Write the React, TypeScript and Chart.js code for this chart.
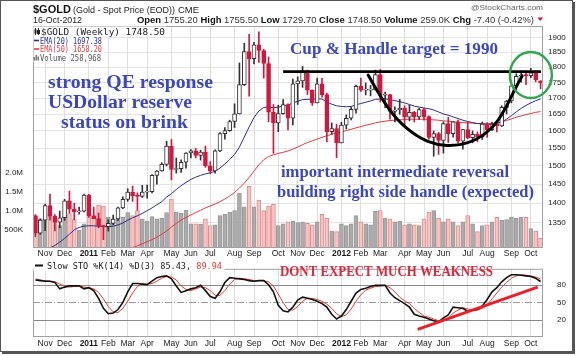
import React, { useEffect, useRef } from 'react';
import { Chart, registerables } from 'chart.js';

Chart.register(...registerables);

// ---------------- data (weekly, $GOLD) ----------------
const weeks = [
  '2010-10-22','2010-10-29','2010-11-05','2010-11-12','2010-11-19','2010-11-26','2010-12-03','2010-12-10','2010-12-17','2010-12-24','2010-12-31',
  '2011-01-07','2011-01-14','2011-01-21','2011-01-28','2011-02-04','2011-02-11','2011-02-18','2011-02-25','2011-03-04','2011-03-11','2011-03-18','2011-03-25','2011-04-01','2011-04-08','2011-04-15','2011-04-22','2011-04-29','2011-05-06','2011-05-13','2011-05-20','2011-05-27','2011-06-03','2011-06-10','2011-06-17','2011-06-24','2011-07-01','2011-07-08','2011-07-15','2011-07-22','2011-07-29','2011-08-05','2011-08-12','2011-08-19','2011-08-26','2011-09-02','2011-09-09','2011-09-16','2011-09-23','2011-09-30','2011-10-07','2011-10-14','2011-10-21','2011-10-28','2011-11-04','2011-11-11','2011-11-18','2011-11-25','2011-12-02','2011-12-09','2011-12-16','2011-12-23','2011-12-30',
  '2012-01-06','2012-01-13','2012-01-20','2012-01-27','2012-02-03','2012-02-10','2012-02-17','2012-02-24','2012-03-02','2012-03-09','2012-03-16','2012-03-23','2012-03-30','2012-04-06','2012-04-13','2012-04-20','2012-04-27','2012-05-04','2012-05-11','2012-05-18','2012-05-25','2012-06-01','2012-06-08','2012-06-15','2012-06-22','2012-06-29','2012-07-06','2012-07-13','2012-07-20','2012-07-27','2012-08-03','2012-08-10','2012-08-17','2012-08-24','2012-08-31','2012-09-07','2012-09-14','2012-09-21','2012-09-28','2012-10-05','2012-10-12','2012-10-16',
];

const opens = [
  1368,1325,1357,1394,1367,1352,1363,1406,1385,1378,1380,
  1421,1368,1361,1342,1341,1349,1360,1388,1410,1429,1420,1418,1429,1430,1474,1486,1504,1556,1490,1492,1510,1536,1542,1529,1539,1500,1486,1542,1592,1601,1628,1651,1743,1852,1828,1876,1856,1812,1656,1624,1652,1680,1638,1745,1755,1788,1725,1685,1745,1711,1598,1607,
  1565,1617,1638,1665,1737,1725,1725,1726,1775,1709,1711,1659,1663,1669,1641,1656,1642,1664,1643,1581,1592,1572,1622,1592,1627,1570,1604,1580,1590,1583,1620,1604,1620,1615,1671,1691,1739,1770,1773,1772,1781,1755.2,
];
const highs = [
  1371,1360,1398,1424,1371,1380,1410,1432,1400,1390,1424,
  1423,1390,1375,1344,1358,1370,1390,1417,1438,1445,1427,1447,1448,1476,1487,1509,1570,1575,1522,1517,1537,1546,1549,1544,1556,1512,1545,1595,1610,1632,1682,1814,1881,1912,1884,1921,1860,1834,1680,1678,1695,1682,1761,1768,1802,1790,1726,1764,1763,1716,1624,1620,
  1626,1648,1672,1741,1764,1748,1740,1790,1792,1719,1712,1673,1696,1676,1678,1659,1668,1670,1645,1600,1596,1627,1641,1628,1632,1605,1627,1600,1597,1627,1625,1626,1624,1676,1693,1741,1778,1788,1787,1796,1787,1755.5,
];
const lows = [
  1316,1322,1331,1357,1330,1338,1356,1375,1358,1372,1378,
  1364,1361,1338,1309,1330,1346,1356,1386,1405,1405,1382,1415,1413,1427,1450,1485,1500,1462,1480,1482,1494,1522,1522,1516,1496,1478,1480,1540,1576,1599,1610,1651,1740,1706,1811,1816,1764,1627,1535,1598,1650,1603,1618,1680,1734,1711,1677,1685,1703,1568,1590,1523,
  1565,1606,1633,1653,1721,1710,1707,1725,1688,1670,1635,1627,1650,1612,1630,1627,1634,1632,1576,1527,1532,1536,1566,1582,1564,1547,1577,1565,1568,1575,1581,1601,1597,1613,1651,1685,1725,1751,1743,1765,1752,1729.7,
];
const closes = [
  1325,1357,1394,1367,1352,1363,1406,1385,1378,1380,1421,
  1368,1361,1342,1341,1349,1360,1388,1410,1429,1420,1418,1429,1430,1474,1486,1504,1556,1490,1492,1510,1536,1542,1529,1539,1500,1486,1542,1592,1601,1628,1651,1743,1852,1828,1876,1856,1812,1656,1624,1652,1680,1638,1745,1755,1788,1725,1685,1745,1711,1598,1607,1565,
  1617,1638,1665,1737,1725,1725,1726,1775,1709,1711,1659,1663,1669,1641,1656,1642,1664,1643,1581,1592,1572,1622,1592,1627,1570,1604,1580,1590,1583,1620,1604,1620,1615,1671,1691,1739,1770,1773,1772,1781,1759,1748.5,
];
// volume in thousands
const volumeK = [
  870,780,950,900,820,600,850,920,760,480,650,
  900,870,1150,1120,820,780,800,830,950,870,1000,780,720,840,780,800,950,1310,960,930,1010,650,650,640,780,600,620,870,900,960,1000,1470,1100,1650,1100,1280,1000,1120,1170,600,650,700,720,680,700,660,620,700,900,800,450,440,
  650,600,650,870,700,650,620,980,1000,800,780,700,720,620,650,620,600,780,960,1000,800,700,780,700,600,700,870,650,440,600,620,700,820,740,760,830,800,830,820,520,450,259,
];
const ema20 = [
  1268,1276,1283,1289,1295,1303,1312,1322,1333,1339,1342,1343,1343,1342,1341,1341,1342,1345,1350,1357,
  1363,1368,1374,1381,1388,1396,1404,1416,1425,1436,1446,1455,1463,1469,1474,1478,1481,1485,1494,1505,
  1518,1532,1553,1582,1612,1640,1660,1671,1672,1670,1672,1675,1678,1685,1690,1695,1696,1697,1698,1697,
  1688,1681,1676,1674,1673,1674,1679,1683,1687,1691,1696,1697,1698,1695,1692,1689,1685,1680,1675,1672,
  1669,1667,1663,1657,1651,1647,1642,1637,1632,1628,1625,1622,1621,1620,1620,1622,1627,1635,1646,1657,
  1668,1677,1685,1692,1697,
];
const ema50 = [
  1225,1229,1233,1237,1241,1244,1248,1252,1256,1260,1263,1267,1270,1272,1274,1276,1278,1281,1284,1287,
  1290,1294,1299,1304,1309,1315,1322,1330,1340,1349,1357,1364,1370,1376,1382,1388,1393,1398,1404,1411,
  1419,1428,1440,1453,1468,1486,1503,1517,1526,1531,1535,1538,1542,1547,1553,1560,1566,1571,1576,1581,
  1586,1590,1594,1597,1601,1605,1609,1613,1617,1620,1624,1627,1629,1631,1632,1633,1634,1635,1635,1635,
  1635,1634,1633,1632,1630,1629,1627,1626,1625,1624,1623,1622,1621,1621,1622,1624,1627,1631,1636,1641,
  1645,1649,1652,1656,1658,
];
const stochK = [
  88,87,86,86,84,73,76,78,78,78,73,75,70,57,40,31,32,38,50,68,
  82,82,81,80,86,92,94,95,90,78,67,70,73,75,79,70,60,57,68,84,
  92,91,90,89,87,86,87,87,80,68,45,36,34,42,54,59,57,55,52,48,
  42,30,22,27,38,52,66,72,74,77,79,79,79,66,58,53,48,42,30,27,
  25,22,19,17,24,29,42,41,40,35,37,38,44,55,68,75,85,92,97,97,
  96,95,94,91,85.43,
];
const stochD = [
  90,88,87,86,85,81,78,76,77,78,76,75,73,67,56,43,34,33,40,52,
  66,77,82,81,82,86,91,94,93,88,78,72,70,73,76,75,70,62,62,70,
  81,89,91,90,89,87,87,87,85,78,64,50,38,37,43,52,57,57,55,52,
  47,40,31,26,29,39,52,63,71,74,77,78,79,75,68,59,53,48,40,33,
  27,25,22,19,20,23,32,37,41,39,37,37,40,46,56,66,76,84,91,95,
  97,96,95,93,89.94,
];
const priceTicks = [1350, 1400, 1450, 1500, 1550, 1600, 1650, 1700, 1750, 1800, 1850, 1900];
const volumeTicks = [500, 1000, 1500, 2000];
const stochTicks = [20, 50, 80];
const MONTHS = ['Jan','Feb','Mar','Apr','May','Jun','Jul','Aug','Sep','Oct','Nov','Dec'];

// annotation anchors (week index, value)
const RESIST = { from: 51.0, price: 1785 };
const CUP: [number, number][] = [
  [68.5, 1774], [71.0, 1704], [74.4, 1633], [78.6, 1582], [82.7, 1559], [86.8, 1556],
  [90.9, 1574], [94.6, 1615], [97.1, 1676], [98.7, 1729], [100.2, 1771],
];
const CIRCLE = { idx: 102.0, price: 1774 };
const STO_TREND: [number, number][] = [[78.7, 4.5], [103.4, 75.9]];

// ---------------- helpers ----------------
const SANS = "'Liberation Sans', Arial, sans-serif";
const SERIF = "'Liberation Serif', 'Times New Roman', serif";
const MONO = "'DejaVu Sans Mono', monospace";

const monthLabels = weeks.map((w, i) => {
  if (i === 0) return '';
  const [y, m] = w.split('-');
  const pm = weeks[i - 1].split('-')[1];
  if (m === pm) return '';
  return m === '01' ? y : MONTHS[parseInt(m, 10) - 1];
});
const isYear = (i: number) => /^\d{4}$/.test(monthLabels[i] || '');

function drawFit(ctx: CanvasRenderingContext2D, text: string, x: number, baseline: number, width: number,
  size: number, weight: string, family: string, color: string) {
  ctx.save();
  ctx.font = `${weight} ${size}px ${family}`;
  const w = ctx.measureText(text).width;
  ctx.translate(x, baseline);
  ctx.scale(width / w, 1);
  ctx.fillStyle = color;
  ctx.textAlign = 'left';
  ctx.textBaseline = 'alphabetic';
  ctx.fillText(text, 0, 0);
  ctx.restore();
}

function drawRuns(ctx: CanvasRenderingContext2D, runs: [string, string, string][], x0: number, x1: number,
  baseline: number, size: number, family: string) {
  let total = 0;
  runs.forEach(([t, wg]) => { ctx.font = `${wg} ${size}px ${family}`; total += ctx.measureText(t).width; });
  ctx.save();
  ctx.translate(x0, baseline);
  ctx.scale((x1 - x0) / total, 1);
  ctx.textAlign = 'left';
  ctx.textBaseline = 'alphabetic';
  let x = 0;
  runs.forEach(([t, wg, col]) => {
    ctx.font = `${wg} ${size}px ${family}`;
    ctx.fillStyle = col;
    ctx.fillText(t, x, 0);
    x += ctx.measureText(t).width;
  });
  ctx.restore();
}

const xAxis = (height: number, pad: number) => ({
  type: 'category' as const,
  offset: true,
  grid: {
    offset: false,
    drawTicks: false,
    lineWidth: 1,
    color: (c: any) => (monthLabels[c.index] ? '#dedede' : 'rgba(0,0,0,0)'),
  },
  border: { display: false },
  ticks: {
    autoSkip: false,
    maxRotation: 0,
    minRotation: 0,
    padding: pad,
    color: '#1a1a1a',
    font: (c: any) => ({ family: SANS, size: 8.5, weight: isYear(c.index) ? 'bold' : 'normal' }),
    callback: (_v: any, i: number) => monthLabels[i],
  },
  afterFit: (s: any) => { s.height = height; },
});

// ---------------- plugins ----------------
const mainDecor = {
  id: 'mainDecor',
  afterDatasetsDraw(chart: any) {
    const { ctx, chartArea: ca, scales } = chart;
    const xs = scales.x, ys = scales.y;
    ctx.save();
    ctx.strokeStyle = '#a0a0a0';
    ctx.lineWidth = 1;
    ctx.strokeRect(ca.left + 0.5, ca.top + 0.5, ca.right - ca.left - 1, ca.bottom - ca.top - 1);

    // resistance line
    const ry = ys.getPixelForValue(RESIST.price);
    ctx.beginPath();
    ctx.strokeStyle = '#000';
    ctx.lineWidth = 2.6;
    ctx.moveTo(xs.getPixelForValue(RESIST.from), ry);
    ctx.lineTo(ca.right - 2, ry);
    ctx.stroke();

    // cup arc
    const pts = CUP.map(([i, p]) => [xs.getPixelForValue(i), ys.getPixelForValue(p)]);
    ctx.beginPath();
    ctx.lineWidth = 3;
    ctx.lineCap = 'round';
    ctx.moveTo(pts[0][0], pts[0][1]);
    for (let k = 1; k < pts.length - 1; k++) {
      const mx = (pts[k][0] + pts[k + 1][0]) / 2;
      const my = (pts[k][1] + pts[k + 1][1]) / 2;
      ctx.quadraticCurveTo(pts[k][0], pts[k][1], mx, my);
    }
    ctx.lineTo(pts[pts.length - 1][0], pts[pts.length - 1][1]);
    ctx.stroke();
    ctx.restore();
  },
  afterDraw(chart: any) {
    const { ctx, scales } = chart;
    const xs = scales.x, ys = scales.y;
    ctx.save();

    // header
    ctx.textBaseline = 'alphabetic';
    ctx.textAlign = 'left';
    ctx.fillStyle = '#111';
    ctx.font = `bold 11px ${SANS}`;
    ctx.fillText('$GOLD', 33, 13);
    drawFit(ctx, '(Gold - Spot Price (EOD))', 73, 13, 102, 9, 'normal', SANS, '#222');
    drawFit(ctx, 'CME', 178, 13, 21, 8.5, 'normal', SANS, '#222');
    drawFit(ctx, '16-Oct-2012', 33, 22.5, 49, 9, 'normal', SANS, '#222');
    drawRuns(ctx, [
      ['Open', 'bold', '#111'], [' 1755.20 ', 'normal', '#333'],
      ['High', 'bold', '#111'], [' 1755.50 ', 'normal', '#333'],
      ['Low', 'bold', '#111'], [' 1729.70 ', 'normal', '#333'],
      ['Close', 'bold', '#111'], [' 1748.50 ', 'normal', '#333'],
      ['Volume', 'bold', '#111'], [' 259.0K ', 'normal', '#333'],
      ['Chg', 'bold', '#111'], [' -7.40 (-0.42%)', 'normal', '#333'],
    ], 137, 534, 22.5, 9, SANS);
    ctx.fillStyle = '#d0103a';
    ctx.beginPath();
    ctx.moveTo(537.5, 17.5); ctx.lineTo(543, 17.5); ctx.lineTo(540.25, 21); ctx.closePath(); ctx.fill();
    drawFit(ctx, '@StockCharts.com', 471, 9.5, 72, 8, 'normal', SANS, '#666');

    // legend box
    ctx.fillStyle = '#fff';
    ctx.fillRect(33.5, 26.5, 133, 10);
    ctx.fillRect(33.5, 36.5, 71, 26);
    // candle icon
    ctx.strokeStyle = '#222'; ctx.lineWidth = 1;
    ctx.beginPath(); ctx.moveTo(35.5, 28); ctx.lineTo(35.5, 35); ctx.moveTo(38.5, 28); ctx.lineTo(38.5, 35); ctx.stroke();
    ctx.fillStyle = '#222'; ctx.fillRect(34.5, 29.5, 2, 4);
    ctx.strokeRect(37.5, 30.5, 2, 3);
    drawFit(ctx, '$GOLD (Weekly) 1748.50', 41, 34.5, 124, 9.5, 'normal', MONO, '#1a1a1a');
    ctx.lineWidth = 1.6;
    ctx.strokeStyle = '#2a2f90';
    ctx.beginPath(); ctx.moveTo(34, 40.5); ctx.lineTo(39, 40.5); ctx.stroke();
    drawFit(ctx, 'EMA(20) 1697.38', 40, 43.5, 62, 8, 'normal', MONO, '#2a2f90');
    ctx.strokeStyle = '#e8383d';
    ctx.beginPath(); ctx.moveTo(34, 49); ctx.lineTo(39, 49); ctx.stroke();
    drawFit(ctx, 'EMA(50) 1658.20', 40, 52, 62, 8, 'normal', MONO, '#e8383d');
    ctx.fillStyle = '#777';
    ctx.fillRect(33.5, 57, 1.5, 3.5); ctx.fillRect(35.5, 55, 1.5, 5.5); ctx.fillRect(37.5, 56.5, 1.5, 4);
    drawFit(ctx, 'Volume 258,968', 40, 60.5, 61, 8, 'normal', MONO, '#555');

    // annotations
    const BLUE = '#3a46c2';
    drawFit(ctx, 'strong QE response', 48, 87.5, 165, 19.7, 'bold', SERIF, BLUE);
    drawFit(ctx, 'USDollar reserve', 48, 108, 144, 19.7, 'bold', SERIF, BLUE);
    drawFit(ctx, 'status on brink', 61, 128, 127, 19.7, 'bold', SERIF, BLUE);
    drawFit(ctx, 'Cup & Handle target = 1990', 290, 54, 208, 17.5, 'bold', SERIF, BLUE);
    drawFit(ctx, 'important intermediate reversal', 281, 176.5, 228, 16.5, 'bold', SERIF, BLUE);
    drawFit(ctx, 'building right side handle (expected)', 277, 197, 257, 16.5, 'bold', SERIF, BLUE);

    // green circle
    ctx.beginPath();
    ctx.strokeStyle = '#31a64c';
    ctx.lineWidth = 2.5;
    ctx.ellipse(xs.getPixelForValue(CIRCLE.idx), ys.getPixelForValue(CIRCLE.price), 21, 23, 0, 0, Math.PI * 2);
    ctx.stroke();
    ctx.restore();
  },
};

const stochDecor = {
  id: 'stochDecor',
  beforeDatasetsDraw(chart: any) {
    const { ctx, chartArea: ca, scales } = chart;
    const ys = scales.y;
    ctx.save();
    ctx.lineWidth = 1;
    ctx.strokeStyle = '#8a8a8a';
    stochTicks.forEach((v) => {
      const y = Math.round(ys.getPixelForValue(v)) + 0.5;
      ctx.setLineDash(v === 50 ? [7, 2, 1, 2] : []);
      ctx.strokeStyle = v === 50 ? '#9a9a9a' : '#8a8a8a';
      ctx.beginPath(); ctx.moveTo(ca.left, y); ctx.lineTo(ca.right, y); ctx.stroke();
    });
    ctx.restore();
  },
  afterDatasetsDraw(chart: any) {
    const { ctx, chartArea: ca, scales } = chart;
    const xs = scales.x, ys = scales.y;
    ctx.save();
    ctx.strokeStyle = '#a0a0a0';
    ctx.lineWidth = 1;
    ctx.strokeRect(ca.left + 0.5, ca.top + 0.5, ca.right - ca.left - 1, ca.bottom - ca.top - 1);

    // trend line
    ctx.beginPath();
    ctx.strokeStyle = '#e8202a';
    ctx.lineWidth = 3;
    ctx.moveTo(xs.getPixelForValue(STO_TREND[0][0]), ys.getPixelForValue(STO_TREND[0][1]));
    ctx.lineTo(xs.getPixelForValue(STO_TREND[1][0]), ys.getPixelForValue(STO_TREND[1][1]));
    ctx.stroke();

    // legend
    ctx.fillStyle = '#fff';
    ctx.fillRect(33.5, 3, 191, 10);
    ctx.strokeStyle = '#111';
    ctx.lineWidth = 2;
    ctx.beginPath(); ctx.moveTo(35, 7.5); ctx.lineTo(43, 7.5); ctx.stroke();
    drawRuns(ctx, [
      ['Slow STO %K(14) %D(3) 85.43, ', 'normal', '#1a1a1a'],
      ['89.94', 'normal', '#e53935'],
    ], 47, 222, 11, 8.5, MONO);

    drawFit(ctx, 'DONT EXPECT MUCH WEAKNESS', 280, 17.5, 213, 15, 'bold', SERIF, '#e0263a');
    ctx.restore();
  },
};

// ---------------- component ----------------
export default function App() {
  const refA = useRef<HTMLCanvasElement>(null);
  const refB = useRef<HTMLCanvasElement>(null);

  useEffect(() => {
    Chart.defaults.font.family = SANS;
    const down = closes.map((c, i) => c < opens[i]);

    const a = new Chart(refA.current as HTMLCanvasElement, {
      type: 'bar',
      data: {
        labels: weeks,
        datasets: [
          {
            type: 'bar', data: volumeK, yAxisID: 'yv',
            backgroundColor: down.map((d) => (d ? '#f7c3c3' : '#ababab')),
            borderColor: down.map((d) => (d ? '#e28a8a' : '#999999')),
            borderWidth: 1, borderSkipped: false, barThickness: 4, grouped: false, order: 10,
          } as any,
          {
            type: 'line', data: ema50, yAxisID: 'y', borderColor: '#e8383d', borderWidth: 1,
            pointRadius: 0, tension: 0, order: 6,
          } as any,
          {
            type: 'line', data: ema20, yAxisID: 'y', borderColor: '#2a2f90', borderWidth: 1,
            pointRadius: 0, tension: 0, order: 5,
          } as any,
          {
            type: 'bar', data: lows.map((l, i) => [l, highs[i]]), yAxisID: 'y',
            backgroundColor: down.map((d) => (d ? '#d4163c' : '#333333')),
            barThickness: 1, grouped: false, order: 3,
          } as any,
          {
            type: 'bar', data: opens.map((o, i) => [Math.min(o, closes[i]), Math.max(o, closes[i])]), yAxisID: 'y',
            backgroundColor: down.map((d) => (d ? '#d4163c' : '#ffffff')),
            borderColor: down.map((d) => (d ? '#d4163c' : '#333333')),
            borderWidth: 1, borderSkipped: false, barThickness: 4, minBarLength: 1, grouped: false, order: 2,
          } as any,
        ],
      },
      options: {
        responsive: false,
        animation: false,
        devicePixelRatio: 1,
        events: [],
        layout: { padding: { top: 26, left: 0, right: 0, bottom: 0 } },
        plugins: { legend: { display: false }, tooltip: { enabled: false } },
        scales: {
          x: xAxis(14, 1) as any,
          y: {
            type: 'logarithmic', position: 'right', min: 1289, max: 1942,
            afterBuildTicks: (s: any) => { s.ticks = priceTicks.map((v) => ({ value: v })); },
            grid: { color: '#e4e4e4', drawTicks: false },
            border: { display: false },
            ticks: { color: '#222', font: { family: SANS, size: 8 }, padding: 5, autoSkip: false, callback: (v: any) => String(v) },
            afterFit: (s: any) => { s.width = 33; },
          } as any,
          yv: {
            type: 'linear', position: 'left', min: 0, max: 5940,
            afterBuildTicks: (s: any) => { s.ticks = volumeTicks.map((v) => ({ value: v })); },
            grid: { display: false },
            border: { display: false },
            ticks: {
              color: '#222', font: { family: SANS, size: 8 }, padding: 2, autoSkip: false,
              callback: (v: any) => (v >= 1000 ? (v / 1000).toFixed(1) + 'M' : v + 'K'),
            },
            afterFit: (s: any) => { s.width = 33; },
          } as any,
        },
      },
      plugins: [mainDecor],
    });

    const b = new Chart(refB.current as HTMLCanvasElement, {
      type: 'line',
      data: {
        labels: weeks,
        datasets: [
          { data: stochD, borderColor: '#e53935', borderWidth: 1, pointRadius: 0, tension: 0, order: 2 } as any,
          { data: stochK, borderColor: '#111111', borderWidth: 1.6, pointRadius: 0, tension: 0, order: 1 } as any,
        ],
      },
      options: {
        responsive: false,
        animation: false,
        devicePixelRatio: 1,
        events: [],
        layout: { padding: { top: 2, left: 33, right: 0, bottom: 0 } },
        plugins: { legend: { display: false }, tooltip: { enabled: false } },
        scales: {
          x: xAxis(19, 2) as any,
          y: {
            position: 'right', min: -8.5, max: 107,
            afterBuildTicks: (s: any) => { s.ticks = stochTicks.map((v) => ({ value: v })); },
            grid: { display: false },
            border: { display: false },
            ticks: { color: '#222', font: { family: SANS, size: 8 }, padding: 6, autoSkip: false },
            afterFit: (s: any) => { s.width = 33; },
          } as any,
        },
      },
      plugins: [stochDecor],
    });

    return () => { a.destroy(); b.destroy(); };
  }, []);

  return (
    <div style={{ position: 'absolute', left: 0, top: 0, width: 576, height: 356, background: '#fff', overflow: 'hidden' }}>
      <canvas ref={refA} width={576} height={262} style={{ position: 'absolute', left: 0, top: 0 }} />
      <canvas ref={refB} width={576} height={98} style={{ position: 'absolute', left: 0, top: 258 }} />
      <div style={{ position: 'absolute', left: 0, top: 0, width: 571, height: 350, border: '1px solid #555', boxShadow: '2px 2px 0 #555', pointerEvents: 'none' }} />
    </div>
  );
}
